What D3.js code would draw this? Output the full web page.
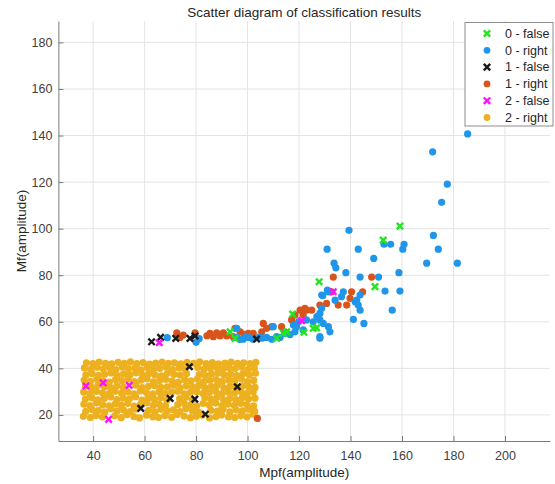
<!DOCTYPE html>
<html>
<head>
<meta charset="utf-8">
<script src="https://cdn.jsdelivr.net/npm/d3@7"></script>
<style>
  body { margin: 0; background: #fff; }
  svg { font-family: "Liberation Sans", Arial, sans-serif; }
</style>
</head>
<body>
<div id="chart"></div>
<script>
// series values: [Mpf, Mf]
const false0 = [[93.2,55.7],[95.1,52.9],[111.3,52.9],[113.9,55.0],[115.2,55.7],[117.5,63.3],
  [121.9,55.5],[125.5,57.2],[126.8,57.4],[127.8,77.2],[149.5,75.1],[152.7,95.1],[159.2,101.1]]

const right0 = [[68.8,53.2],[80.0,51.2],[81.2,52.8],[95.8,53.3],[95.8,57.2],[97.0,52.4],[98.3,52.5],
  [99.4,53.6],[100.3,53.3],[102.2,52.5],[104.6,53.4],[105.8,53.0],[107.4,53.3],[109.4,52.5],
  [110.0,57.9],[111.3,53.6],[112.6,53.3],[114.5,55.0],[116.5,54.5],[117.8,58.6],[118.4,55.7],
  [119.0,57.9],[119.8,60.0],[121.6,56.5],[122.9,60.8],[125.5,60.0],[126.9,62.2],[128.1,63.6],
  [128.1,60.8],[128.1,53.6],[128.1,52.9],[128.8,65.8],[129.4,59.3],[131.4,57.9],[132.0,55.7],
  [128.8,71.5],[129.2,71.2],[131.0,73.6],[131.4,72.9],[134.0,69.3],[136.5,70.8],[137.2,72.9],
  [141.1,61.0],[141.8,68.6],[142.4,69.3],[143.0,67.2],[143.7,65.0],[143.7,71.5],[145.2,59.3],
  [156.2,65.0],[153.4,73.2],[159.2,73.2],[143.7,79.2],[150.9,79.2],[158.8,81.1],[138.2,81.1],
  [133.6,85.2],[134.3,83.2],[149.0,87.2],[130.9,91.2],[143.0,91.2],[153.0,93.3],[155.6,93.3],
  [160.3,91.2],[160.8,93.3],[139.4,99.3],[169.6,85.2],[181.5,85.2],[174.1,91.2],[172.2,97.1],
  [175.4,111.3],[177.6,119.1],[171.9,133.0],[185.5,140.7]]

const false1 = [[62.7,51.4],[66.2,53.3],[72.1,52.9],[77.6,52.9],[79.6,53.9],[103.5,52.6],
  [77.4,40.7],[58.5,22.8],[69.9,27.1],[79.5,26.8],[83.6,20.3],[96.0,32.1]]

const right1 = [[72.5,55.3],[73.7,53.3],[75.0,54.3],[79.6,55.3],[84.2,54.0],[85.4,55.0],[86.7,53.6],
  [88.0,55.3],[89.3,53.9],[90.6,55.3],[91.9,53.9],[94.4,53.6],[95.1,57.2],[97.1,55.7],[98.6,54.6],
  [100.3,55.0],[102.2,55.0],[105.5,55.7],[106.1,59.3],[107.4,57.2],[109.4,57.9],[113.2,57.9],
  [114.5,55.7],[117.1,60.8],[118.4,62.9],[120.4,65.0],[121.6,62.9],[122.3,65.8],[122.9,65.0],
  [124.9,65.0],[128.1,67.2],[130.7,67.9],[132.0,72.9],[132.7,72.9],[133.3,79.2],[135.2,67.2],
  [138.5,67.2],[139.8,70.1],[140.4,72.9],[144.7,72.9],[148.2,79.2],[103.8,18.5]]

const false2 = [[37.2,32.4],[43.9,33.8],[54.0,32.7],[46.0,18.1],[65.7,51.0],[121.0,60.5],[133.3,72.9]]

// 2 - right: the dense block, one line per band of Mf
const right2X = [
  36.2,38.9,41.1,43.6,48.4,50.9,53.1,55.8,58.0,60.7,63.2,65.4,67.9,70.5,72.6,75.3,77.8,80.1,82.4,85.2,87.7,89.9,92.6,95.0,97.4,99.8,102.1,
  37.1,39.6,42.0,44.5,46.9,49.3,51.8,54.4,56.6,61.5,64.0,66.3,68.8,71.2,73.7,76.0,78.6,81.0,85.8,88.3,90.5,93.1,95.6,98.0,100.4,102.8,
  36.4,38.8,41.3,43.7,46.2,48.6,51.0,53.5,55.9,58.4,60.8,63.3,65.6,68.1,72.9,75.4,77.9,80.2,82.7,85.1,87.6,90.0,92.4,94.9,97.3,99.7,102.3,
  37.0,39.5,41.9,44.3,46.8,49.2,51.6,54.1,56.5,59.0,61.4,63.8,66.3,68.7,73.6,76.1,78.5,83.4,85.8,88.2,90.7,93.1,95.5,98.0,100.4,102.9,
  36.3,38.7,41.2,43.6,46.1,48.5,51.0,53.4,55.8,58.3,60.7,63.2,65.6,68.0,70.5,72.9,75.4,77.8,80.3,82.7,85.1,87.6,90.0,92.5,94.9,97.3,99.8,102.2,
  37.0,39.4,41.9,44.4,46.8,49.2,51.7,56.6,59.0,61.5,63.9,66.3,68.8,71.2,73.7,76.1,78.6,81.0,83.4,85.9,88.3,90.8,93.2,95.6,98.1,100.5,102.9,
  36.5,38.9,41.4,43.8,46.3,48.7,51.1,53.6,56.0,58.5,60.9,63.4,65.8,68.2,70.7,73.1,75.6,78.0,80.5,82.9,85.3,87.8,90.2,92.7,95.1,97.6,100.0,102.4,
  37.2,39.6,42.1,44.5,47.0,49.4,51.8,54.3,56.7,59.2,61.6,64.0,66.5,68.9,71.4,73.8,76.3,81.2,83.6,86.0,88.5,90.9,93.4,95.8,98.2,100.7,103.1,
  36.6,39.1,41.5,43.9,46.4,48.8,51.3,53.7,56.2,58.6,61.0,63.5,65.9,68.4,70.8,73.3,75.7,80.6,83.0,85.5,87.9,90.4,92.8,95.2,97.7,100.1,102.6,
  37.4,39.9,42.3,44.8,47.2,49.7,52.1,54.5,57.0,59.4,61.9,64.3,66.8,69.2,71.6,74.1,76.5,79.0,81.4,83.9,86.3,88.7,91.2,93.6,96.1,98.5,101.0,103.2]
const right2Y = [
  19.4,18.9,19.8,19.1,19.6,18.8,20.1,19.3,18.7,19.9,19.2,18.9,19.7,19.0,20.2,19.5,18.8,19.4,19.9,18.7,19.3,20.0,19.1,18.9,19.6,19.2,20.3,
  21.5,22.3,21.9,21.2,22.6,21.7,22.1,21.4,22.5,21.9,21.3,22.4,21.6,22.2,21.4,22.7,21.8,21.2,22.0,21.6,22.5,21.3,22.1,21.7,22.4,21.5,
  24.6,24.0,25.1,24.3,23.9,24.8,24.2,25.0,23.8,24.5,25.2,24.1,24.7,23.9,24.4,25.0,24.2,23.8,24.9,24.3,25.1,23.9,24.6,24.1,25.0,24.4,23.9,
  26.8,27.4,26.5,27.1,27.7,26.6,27.3,26.9,27.8,26.4,27.2,26.7,27.5,26.3,27.0,27.6,26.5,27.3,26.8,27.7,26.4,27.1,26.6,27.5,26.9,27.2,
  29.8,29.2,30.1,29.5,29.0,30.2,29.4,29.9,29.1,30.3,29.6,29.0,30.0,29.3,29.8,30.2,29.1,29.7,30.0,29.2,29.6,30.3,29.0,29.9,29.4,30.1,29.3,29.8,
  32.4,31.8,32.7,32.0,31.6,32.5,31.9,32.8,31.7,32.3,32.6,31.8,32.1,32.7,31.5,32.4,32.0,32.6,31.7,32.2,32.8,31.6,32.3,31.9,32.5,32.0,31.8,
  35.0,34.4,35.3,34.6,34.1,35.2,34.7,35.4,34.3,34.9,35.5,34.2,34.8,35.3,34.5,34.0,35.1,34.6,35.4,34.2,34.9,35.2,34.4,35.0,34.7,35.5,34.3,34.8,
  37.2,37.8,37.0,37.5,38.0,36.9,37.6,37.3,38.1,37.0,37.7,37.2,36.8,37.9,37.4,37.1,37.8,37.3,36.9,37.6,38.0,37.2,37.5,36.9,37.7,37.3,37.9,
  40.2,39.6,40.5,39.8,40.3,39.5,40.6,39.9,40.1,39.4,40.4,39.7,40.0,40.6,39.5,40.2,39.8,40.4,39.6,40.1,40.5,39.7,40.3,39.9,40.6,39.5,40.0,
  42.4,42.0,42.7,42.2,41.9,42.6,42.1,42.8,42.0,42.5,41.8,42.3,42.7,42.1,42.4,41.9,42.6,42.2,42.8,42.0,42.5,41.9,42.3,42.7,42.1,42.4,42.0,42.6]
const right2 = right2X.map((v, i) => [v, right2Y[i]])

const xTicks = [40, 60, 80, 100, 120, 140, 160, 180, 200]
const yTicks = [20, 40, 60, 80, 100, 120, 140, 160, 180]

const width = 555, height = 484,
  margin = ({top: 21, right: 5, bottom: 43, left: 58.4});

const x = d3.scaleLinear()
  .domain([26.5, 217.5])
  .range([margin.left, width - margin.right])

const y = d3.scaleLinear()
  .domain([8.8, 189.2])
  .range([height - margin.bottom, margin.top])

const svg = d3.select("#chart")
  .append("svg")
  .attr("width", width)
  .attr("height", height)

// grid
svg.append("g")
  .attr("stroke", "#e4e4e4")
  .call(g => g.selectAll(".vx").data(xTicks).join("line")
    .attr("x1", d => x(d)).attr("x2", d => x(d))
    .attr("y1", margin.top).attr("y2", height - margin.bottom))
  .call(g => g.selectAll(".hy").data(yTicks).join("line")
    .attr("x1", margin.left).attr("x2", width - margin.right)
    .attr("y1", d => y(d)).attr("y2", d => y(d)))

const xAxis = g => g
  .attr("transform", `translate(0,${height - margin.bottom})`)
  .call(d3.axisBottom(x).tickValues(xTicks).tickSize(-5).tickPadding(10.5).tickSizeOuter(0))
  .call(g => g.selectAll("path,line").attr("stroke", "#7a7a7a"))
  .call(g => g.selectAll("text").attr("fill", "#404040").attr("font-size", 12.5))

const yAxis = g => g
  .attr("transform", `translate(${margin.left},0)`)
  .call(d3.axisLeft(y).tickValues(yTicks).tickSize(-5).tickPadding(6).tickSizeOuter(0))
  .call(g => g.selectAll("path,line").attr("stroke", "#7a7a7a"))
  .call(g => g.selectAll("text").attr("fill", "#404040").attr("font-size", 12.5))

svg.append("g").call(xAxis)
svg.append("g").call(yAxis)

const cross = "M-3.2,-3.2L3.2,3.2M-3.2,3.2L3.2,-3.2"

const series = [
  {name: "2 - right", data: right2, color: "#edb120", cross: false},
  {name: "1 - right", data: right1, color: "#d9541a", cross: false},
  {name: "0 - right", data: right0, color: "#1f96ea", cross: false},
  {name: "0 - false", data: false0, color: "#22e622", cross: true},
  {name: "1 - false", data: false1, color: "#1a1a1a", cross: true},
  {name: "2 - false", data: false2, color: "#ff10ff", cross: true}
]

const plot = svg.append("g")
series.forEach(s => {
  if (s.cross) {
    plot.append("g")
      .selectAll("path")
      .data(s.data)
      .join("path")
        .attr("transform", d => `translate(${x(d[0])},${y(d[1])})`)
        .attr("d", cross)
        .attr("stroke", s.color)
        .attr("stroke-width", 2.4)
        .attr("fill", "none")
  } else {
    plot.append("g")
      .selectAll("circle")
      .data(s.data)
      .join("circle")
        .attr("cx", d => x(d[0]))
        .attr("cy", d => y(d[1]))
        .attr("r", 3.6)
        .attr("fill", s.color)
  }
})

// title and labels
svg.append("text")
  .attr("x", (margin.left + width - margin.right) / 2)
  .attr("y", 17)
  .attr("text-anchor", "middle")
  .attr("font-size", 13.5)
  .attr("fill", "#262626")
  .text("Scatter diagram of classification results")

svg.append("text")
  .attr("x", (margin.left + width - margin.right) / 2)
  .attr("y", 477)
  .attr("text-anchor", "middle")
  .attr("font-size", 13.5)
  .attr("fill", "#262626")
  .text("Mpf(amplitude)")

svg.append("text")
  .attr("transform", `translate(26,${(margin.top + height - margin.bottom) / 2}) rotate(-90)`)
  .attr("text-anchor", "middle")
  .attr("font-size", 13.5)
  .attr("fill", "#262626")
  .text("Mf(amplitude)")

// legend
const legendOrder = ["0 - false", "0 - right", "1 - false", "1 - right", "2 - false", "2 - right"]
const legend = svg.append("g").attr("transform", "translate(465,22.5)")
legend.append("rect")
  .attr("width", 88)
  .attr("height", 103.5)
  .attr("fill", "#fff")
  .attr("stroke", "#8c8c8c")
const item = legend.selectAll(".item")
  .data(legendOrder.map(n => series.find(s => s.name === n)))
  .join("g")
    .attr("transform", (d, i) => `translate(0,${11 + i * 16.8})`)
item.each(function(d) {
  const g = d3.select(this)
  if (d.cross) {
    g.append("path").attr("transform", "translate(22,0)").attr("d", cross)
      .attr("stroke", d.color).attr("stroke-width", 2.4).attr("fill", "none")
  } else {
    g.append("circle").attr("cx", 22).attr("r", 3.4).attr("fill", d.color)
  }
})
item.append("text")
  .attr("x", 40)
  .attr("dy", "0.35em")
  .attr("font-size", 12.5)
  .attr("fill", "#262626")
  .text(d => d.name)
</script>
</body>
</html>
